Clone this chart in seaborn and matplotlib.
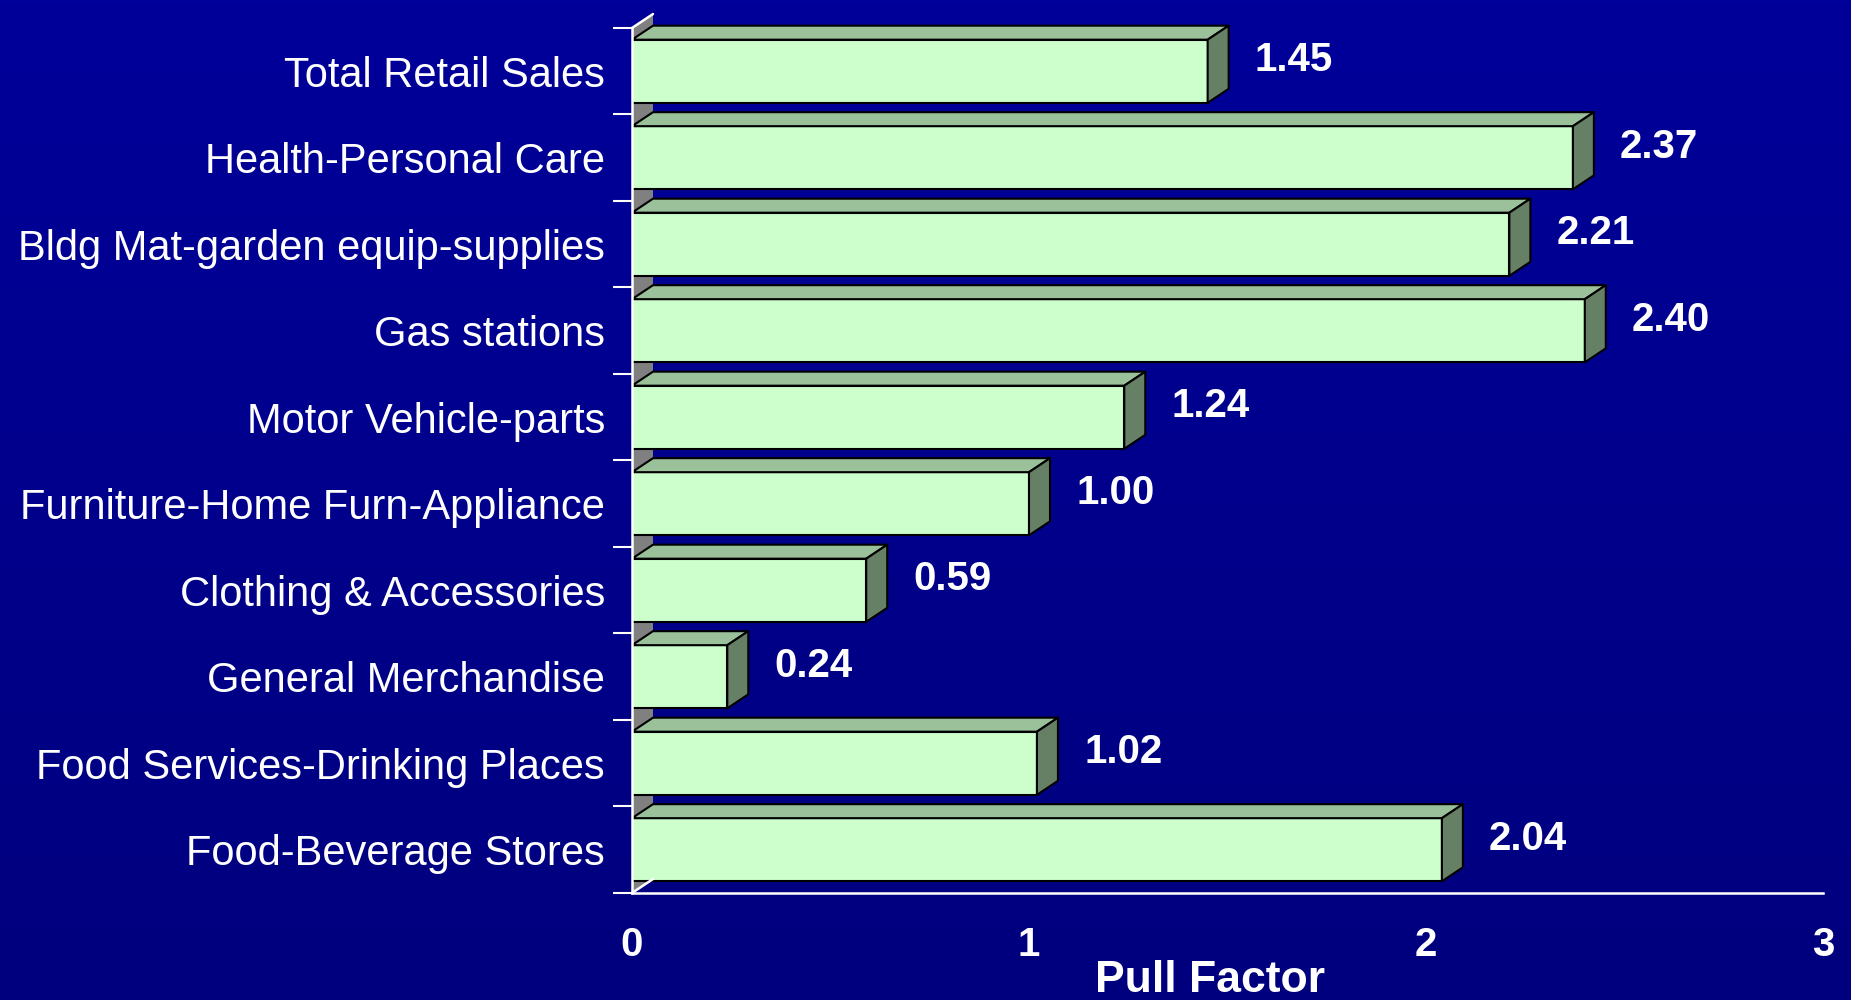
import numpy as np
import matplotlib
matplotlib.use("Agg")
import matplotlib.pyplot as plt
from matplotlib import font_manager
from matplotlib.patches import Polygon
from matplotlib.colors import LinearSegmentedColormap
import seaborn as sns
import pandas as pd

# ---- data ----
categories = [
    "Total Retail Sales",
    "Health-Personal Care",
    "Bldg Mat-garden equip-supplies",
    "Gas stations",
    "Motor Vehicle-parts",
    "Furniture-Home Furn-Appliance",
    "Clothing & Accessories",
    "General Merchandise",
    "Food Services-Drinking Places",
    "Food-Beverage Stores",
]
values = [1.45, 2.37, 2.21, 2.40, 1.24, 1.00, 0.59, 0.24, 1.02, 2.04]
value_labels = ["1.45", "2.37", "2.21", "2.40", "1.24", "1.00", "0.59", "0.24", "1.02", "2.04"]
x_ticks = [0, 1, 2, 3]
x_label = "Pull Factor"

df = pd.DataFrame({"category": categories, "value": values})

sns.set_theme(style="white")
installed = {f.name for f in font_manager.fontManager.ttflist}
if "Liberation Sans Narrow" in installed:
    cat_family, cat_size = ["Liberation Sans Narrow", "DejaVu Sans"], 34
else:
    cat_family, cat_size = ["Liberation Sans", "DejaVu Sans"], 30
plt.rcParams["font.family"] = ["Liberation Sans", "DejaVu Sans"]

W, H = 18.51, 10.0
fig = plt.figure(figsize=(W, H), dpi=100)

# gradient background
bg = fig.add_axes([0, 0, 1, 1], zorder=-10)
grad = np.linspace(0, 1, 256).reshape(-1, 1)
cmap = LinearSegmentedColormap.from_list("bg", ["#00009A", "#00007E"])
bg.imshow(grad, aspect="auto", cmap=cmap, extent=[0, 1, 0, 1])
bg.set_axis_off()

left, right = 632 / 1851, 1823 / 1851
bottom, top = 1 - 893 / 1000, 1 - 28 / 1000
ax = fig.add_axes([left, bottom, right - left, top - bottom])
ax.set_facecolor("none")

sns.barplot(data=df, x="value", y="category", orient="h", width=0.73,
            color="#CCFFCC", saturation=1, edgecolor="black", linewidth=1.5,
            ax=ax, zorder=2)

ax.set_xlim(0, 3)
ax.set_ylim(9.5, -0.5)

# depth in data units (pixel depth 21 x 14)
ax_w_px = (right - left) * W * 100
ax_h_px = (top - bottom) * H * 100
DX = 21 * 3 / ax_w_px
DY = 14 * 10 / ax_h_px

# side wall
wall = Polygon([(0, 9.5), (DX, 9.5 - DY), (DX, -0.5 - DY), (0, -0.5)],
               closed=True, facecolor="#808080", edgecolor="none", zorder=0.5, clip_on=False)
bars = list(ax.patches)
ax.add_patch(wall)
ax.plot([0, DX], [-0.5, -0.5 - DY], color="white", lw=1.8, clip_on=False, zorder=5)
ax.plot([0, DX], [9.5, 9.5 - DY], color="white", lw=1.8, clip_on=False, zorder=5)

for p in bars:
    x0, y0 = p.get_x(), p.get_y()
    w, h = p.get_width(), p.get_height()
    x1 = x0 + w
    topf = Polygon([(x0, y0), (x0 + DX, y0 - DY), (x1 + DX, y0 - DY), (x1, y0)],
                   closed=True, facecolor="#9BC19B", edgecolor="black", lw=1.5,
                   joinstyle="round", zorder=3, clip_on=False)
    side = Polygon([(x1, y0), (x1 + DX, y0 - DY), (x1 + DX, y0 + h - DY), (x1, y0 + h)],
                   closed=True, facecolor="#668066", edgecolor="black", lw=1.5,
                   joinstyle="round", zorder=3, clip_on=False)
    ax.add_patch(topf)
    ax.add_patch(side)

for i, (v, lab) in enumerate(zip(values, value_labels)):
    ax.annotate(lab, xy=(v, i), xytext=(34, 8), textcoords="offset points",
                ha="left", va="center", color="white", fontsize=29,
                fontweight="bold", zorder=6)

# axes styling
for s in ["top", "right"]:
    ax.spines[s].set_visible(False)
for s in ["left", "bottom"]:
    ax.spines[s].set_color("white")
    ax.spines[s].set_linewidth(1.8)
    ax.spines[s].set_zorder(5)

ax.set_xticks(x_ticks)
ax.set_xticklabels([str(t) for t in x_ticks], fontsize=29, fontweight="bold", color="white")
ax.tick_params(axis="x", direction="out", length=13, width=1.5, colors="white", pad=11)

ax.set_yticks(np.arange(-0.5, 10, 1))
ax.set_yticklabels([])
ax.set_yticks(np.arange(len(categories)), minor=True)
ax.set_yticklabels(categories, minor=True, color="white", fontsize=cat_size, family=cat_family)
ax.tick_params(axis="y", which="major", direction="out", length=13.7, width=1.5, colors="white", left=True)
ax.tick_params(axis="y", which="minor", length=0, pad=19.4, colors="white", left=True)

ax.set_ylabel("")
ax.set_xlabel(x_label, fontsize=32, fontweight="bold", color="white")
ax.xaxis.set_label_coords(0.485, -0.078)

fig.savefig("out.png", dpi=100)
